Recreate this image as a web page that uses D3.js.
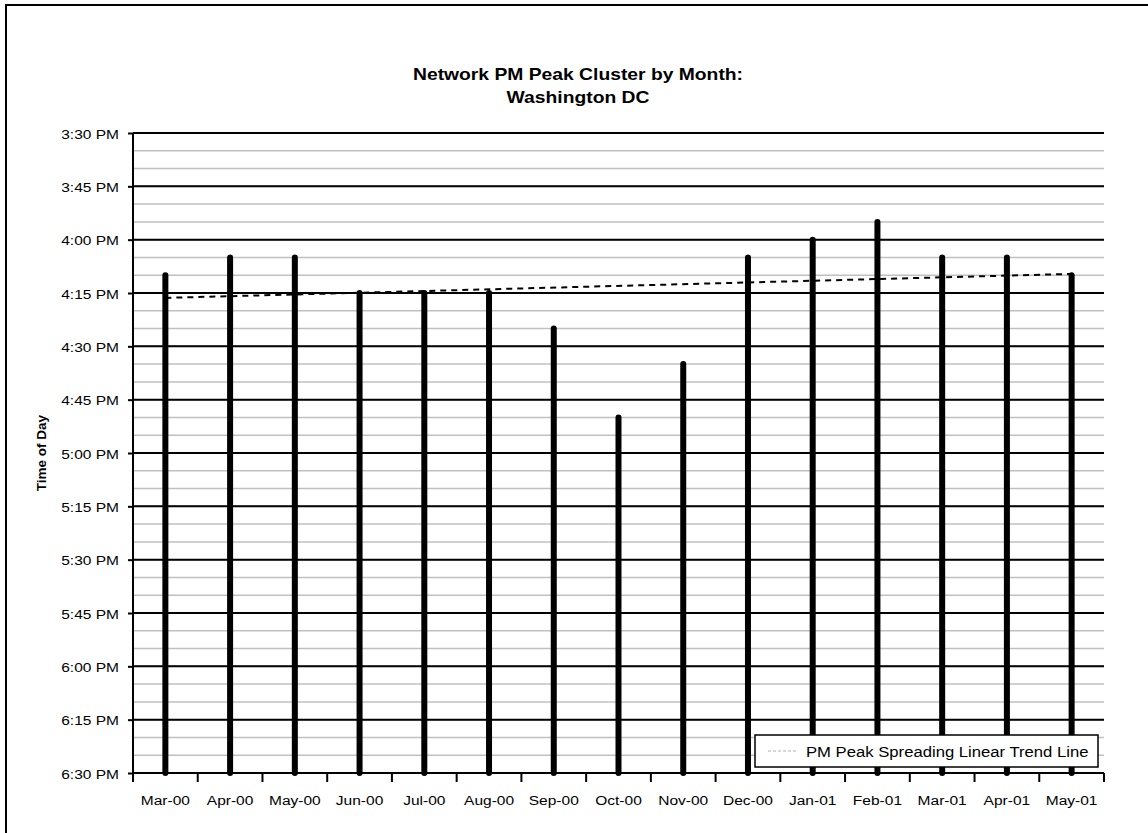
<!DOCTYPE html>
<html>
<head>
<meta charset="utf-8">
<script src="https://cdnjs.cloudflare.com/ajax/libs/d3/7.8.5/d3.min.js"></script>
<style>
  html, body { margin: 0; padding: 0; background: #fff; }
  svg { display: block; }
  text { font-family: "Liberation Sans", Arial, sans-serif; fill: #000; }
</style>
</head>
<body>
<svg id="chart" width="1148" height="833"></svg>
<script>
// ---- data ----
const months = ["Mar-00","Apr-00","May-00","Jun-00","Jul-00","Aug-00","Sep-00","Oct-00","Nov-00","Dec-00","Jan-01","Feb-01","Mar-01","Apr-01","May-01"];
const peakStart = ["4:10 PM","4:05 PM","4:05 PM","4:15 PM","4:15 PM","4:15 PM","4:25 PM","4:50 PM","4:35 PM","4:05 PM","4:00 PM","3:55 PM","4:05 PM","4:05 PM","4:10 PM"];
const barBase = "6:30 PM";
const closeMark = ["5:00 PM","5:00 PM","5:00 PM","5:00 PM","5:00 PM","5:00 PM","5:00 PM","5:00 PM","5:00 PM","5:00 PM","5:00 PM","5:00 PM","5:00 PM","5:00 PM","5:00 PM"];
const yDomain = ["3:30 PM","6:30 PM"];
const titleLines = ["Network PM Peak Cluster by Month:", "Washington DC"];
const yTitle = "Time of Day";
const legendLabel = "PM Peak Spreading Linear Trend Line";

// ---- layout ----
const M = { left: 133, right: 1104, top: 133, bottom: 773 };
const SX = 1.15; // horizontal text stretch seen in the reference

const parse = d3.timeParse("%I:%M %p");
const fmt = d3.timeFormat("%-I:%M %p");

const svg = d3.select("#chart");

// outer frame
svg.append("rect").attr("x", 6).attr("y", 5).attr("width", 1200).attr("height", 900)
  .attr("fill", "none").attr("stroke", "#000").attr("stroke-width", 2);

const x = d3.scaleBand().domain(months).range([M.left, M.right]).padding(0);
const y = d3.scaleTime().domain(yDomain.map(parse)).range([M.top, M.bottom]);

// minor grid (every 5 min)
const minor = y.ticks(d3.timeMinute.every(5));
svg.append("g").selectAll("line").data(minor).join("line")
  .attr("x1", M.left).attr("x2", M.right)
  .attr("y1", d => y(d)).attr("y2", d => y(d))
  .attr("stroke", "#c0c0c0").attr("stroke-width", 1.5);

// major grid (every 15 min)
const major = y.ticks(d3.timeMinute.every(15));
svg.append("g").selectAll("line").data(major).join("line")
  .attr("x1", M.left).attr("x2", M.right)
  .attr("y1", d => y(d)).attr("y2", d => y(d))
  .attr("stroke", "#000").attr("stroke-width", 2);

// y axis
const yAxis = d3.axisLeft(y).tickValues(major).tickFormat(fmt).tickSize(5).tickPadding(9);
const gy = svg.append("g").attr("transform", `translate(${M.left},0)`).call(yAxis);
gy.select(".domain").attr("stroke-width", 2).attr("d", `M0,${M.top}V${M.bottom + 9}`);
gy.selectAll(".tick line").attr("stroke-width", 2);
gy.selectAll(".tick text")
  .attr("font-size", 13.5)
  .attr("dy", null)
  .attr("transform", function () {
    return `translate(${d3.select(this).attr("x")},5) scale(${SX},1)`;
  })
  .attr("x", 0);

// x axis
const xAxis = d3.axisBottom(x).tickSize(0).tickPadding(22);
const gx = svg.append("g").attr("transform", `translate(0,${M.bottom})`).call(xAxis);
gx.select(".domain").attr("stroke-width", 2).attr("d", `M${M.left},0H${M.right}`);
gx.selectAll(".tick text").attr("font-size", 13.5).attr("dy", null)
  .attr("transform", `scale(${SX},1)`)
  .attr("x", 0)
  .each(function (d) {
    d3.select(this.parentNode).select("text").attr("transform", `translate(0,32) scale(${SX},1)`).attr("y", 0);
  });
// boundary ticks between categories
const bounds = months.map(m => x(m)).concat([M.right]);
gx.append("g").selectAll("line").data(bounds).join("line")
  .attr("x1", d => d).attr("x2", d => d).attr("y1", 0).attr("y2", 9)
  .attr("stroke", "#000").attr("stroke-width", 2);

// bars (peak start down to base)
const cx = m => x(m) + x.bandwidth() / 2;
svg.append("g").selectAll("line").data(months).join("line")
  .attr("x1", cx).attr("x2", cx)
  .attr("y1", (m, i) => y(parse(peakStart[i])))
  .attr("y2", y(parse(barBase)))
  .attr("stroke", "#000").attr("stroke-width", 6).attr("stroke-linecap", "round");

// small close marks
svg.append("g").selectAll("line").data(months).join("line")
  .attr("x1", m => cx(m) + 3).attr("x2", m => cx(m) + 6)
  .attr("y1", (m, i) => y(parse(closeMark[i]))).attr("y2", (m, i) => y(parse(closeMark[i])))
  .attr("stroke", "#000").attr("stroke-width", 2);

// linear trend line (least squares fit of the peak start times)
const base = parse(yDomain[0]).getTime();
const mins = peakStart.map(s => (parse(s).getTime() - base) / 60000);
const n = mins.length;
const xs = d3.range(n);
const mx = d3.mean(xs), my = d3.mean(mins);
const slope = d3.sum(xs, i => (i - mx) * (mins[i] - my)) / d3.sum(xs, i => (i - mx) * (i - mx));
const icpt = my - slope * mx;
const trendAt = i => new Date(base + (icpt + slope * i) * 60000);
svg.append("path")
  .attr("d", d3.line().x(i => cx(months[i])).y(i => y(trendAt(i)))([0, n - 1]))
  .attr("fill", "none").attr("stroke", "#000").attr("stroke-width", 2)
  .attr("stroke-dasharray", "6,5");

// legend
const lg = svg.append("g");
lg.append("rect").attr("x", 755).attr("y", 735).attr("width", 343).attr("height", 32)
  .attr("fill", "#fff").attr("stroke", "#000").attr("stroke-width", 1.5);
lg.append("line").attr("x1", 768).attr("x2", 797).attr("y1", 751).attr("y2", 751)
  .attr("stroke", "#b0b0b0").attr("stroke-width", 1).attr("stroke-dasharray", "3,2");
lg.append("text").attr("transform", `translate(806,757) scale(${SX},1)`)
  .attr("font-size", 14.5).text(legendLabel);

// title
svg.append("g").selectAll("text").data(titleLines).join("text")
  .attr("transform", (d, i) => `translate(578,${80 + i * 23}) scale(1.17,1)`)
  .attr("text-anchor", "middle").attr("font-weight", "bold").attr("font-size", 16.5)
  .text(d => d);

// y title
svg.append("text")
  .attr("transform", `translate(46,${(M.top + M.bottom) / 2}) rotate(-90)`)
  .attr("text-anchor", "middle").attr("font-weight", "bold").attr("font-size", 13.5)
  .text(yTitle);
</script>
</body>
</html>
